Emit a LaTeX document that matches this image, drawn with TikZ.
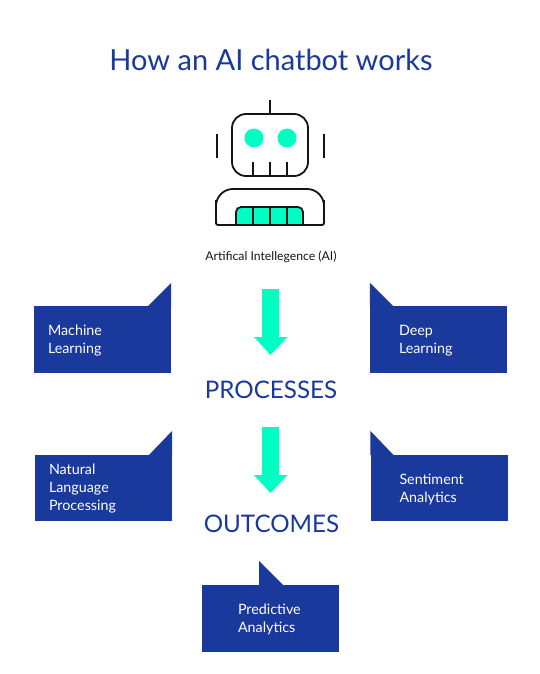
\documentclass[tikz,border=0pt]{standalone}
\usepackage{fontspec}
\setmainfont{Lato}
\usetikzlibrary{positioning}
\definecolor{aiblue}{RGB}{25,57,156}
\definecolor{aigreen}{RGB}{0,255,195}
\definecolor{ailine}{RGB}{20,20,20}
\tikzset{
  bubble/.style={rectangle, fill=aiblue, text=white, minimum width=137pt, minimum height=67pt,
                 text width=109pt, align=left, inner sep=0pt, font=\fontsize{14.3}{18}\selectfont,
                 execute at begin node={\rule{0pt}{12.5pt}}},
  heading/.style={text=aiblue, inner sep=0pt, font=\fontsize{24.2}{28}\selectfont},
  robot/.style={draw=ailine, line width=1.8pt},
  flowarrow/.style={fill=aigreen, draw=none}
}
\newcommand{\flowdown}[1]{\fill[flowarrow] (262,#1) -- (279,#1) -- (279,#1+48) -- (287.5,#1+48)
  -- (270.5,#1+66) -- (254,#1+48) -- (262,#1+48) -- cycle;}
\begin{document}
\begin{tikzpicture}[x=1pt,y=-1pt]
    \useasboundingbox (0,0) rectangle (540,674);
    \node (title) [text=aiblue, inner sep=0pt, font=\fontsize{29}{32}\selectfont] at (271,60) {How an AI chatbot works};
    % robot head
    \draw[robot, rounded corners=14pt] (232,114) rectangle (308,176);
    \draw[robot] (270,100) -- (270,114);
    \draw[robot] (217,134) -- (217,158);
    \draw[robot] (324,134) -- (324,158);
    \fill[aigreen] (254,138) circle (9.5);
    \fill[aigreen] (287,138) circle (9.5);
    \foreach \tx in {253,270,287} \draw[robot] (\tx,162) -- (\tx,176);
    % robot body
    \fill[aigreen, rounded corners=5pt] (236,225) -- (236,207) -- (303,207) -- (303,225) [sharp corners] -- cycle;
    \draw[robot, rounded corners=5pt] (236,225) -- (236,207) -- (303,207) -- (303,225);
    \foreach \tx in {253,270,287} \draw[robot] (\tx,207) -- (\tx,225);
    \draw[robot, rounded corners=17pt] (216,207) -- (216,189) -- (324,189) -- (324,207);
    \draw[robot, rounded corners=2pt] (216,200) -- (216,225) -- (324,225) -- (324,200);
    \node (ai) [inner sep=0pt, text=ailine, font=\fontsize{12.2}{14}\selectfont] at (271,257) {Artifical Intellegence (AI)};
    \node (proc) [heading] at (271,390) {PROCESSES};
    \node (outc) [heading] at (271.5,524) {OUTCOMES};
    % arrows
    \flowdown{289}
    \flowdown{427}
    % bubbles
    \node (ml) [bubble] at (102.5,339.5) {Machine\\Learning};
    \node (dl) [bubble, text width=79pt] at (438.5,339.5) {Deep\\Learning};
    \node (nlp) [bubble, minimum height=66pt] at (103.5,488) {Natural\\Language\\Processing};
    \node (sa) [bubble, minimum height=66pt, text width=79pt] at (439,488) {Sentiment\\Analytics};
    \node (pa) [bubble, text width=65pt] at (270.5,618.5) {Predictive\\Analytics};
    \fill[aiblue] (ml.north east) -- ++(-23,0) -- ++(23,-23) -- cycle;
    \fill[aiblue] (dl.north west) -- ++(23,0) -- ++(-23,-23) -- cycle;
    \fill[aiblue] (nlp.north east) -- ++(-23,0) -- ++(23,-24) -- cycle;
    \fill[aiblue] (sa.north west) -- ++(23,0) -- ++(-23,-24) -- cycle;
    \fill[aiblue] ([xshift=-11.5pt]pa.north) -- ++(0,-24) -- ++(24,24) -- cycle;
\end{tikzpicture}
\end{document}
